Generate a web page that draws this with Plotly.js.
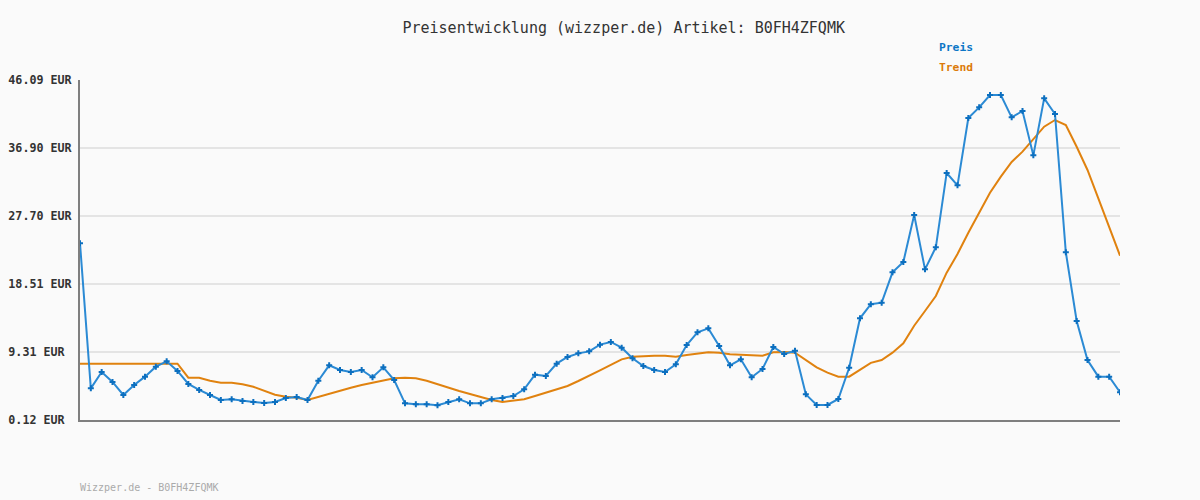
<!DOCTYPE html>
<html>
<head>
<meta charset="utf-8">
<script src="https://cdn.plot.ly/plotly-3.0.1.min.js"></script>
<style>
  html, body { margin: 0; padding: 0; background: #fafafa; }
  #chart { width: 1200px; height: 500px; }
</style>
</head>
<body>
<div id="chart"></div>
<script>
// ---- Data ----
const chartTitle = "Preisentwicklung (wizzper.de) Artikel: B0FH4ZFQMK";
const footerText = "Wizzper.de - B0FH4ZFQMK";
const seriesNames = ["Preis", "Trend"];

const priceValues = [
  24.01, 4.40, 6.61, 5.26, 3.50, 4.85, 5.98, 7.33, 8.05, 6.75,
  4.99, 4.18, 3.50, 2.82, 2.92, 2.69, 2.55, 2.42, 2.55, 3.09,
  3.23, 2.82, 5.43, 7.51, 6.88, 6.61, 6.88, 5.89, 7.24, 5.53,
  2.37, 2.24, 2.24, 2.11, 2.55, 2.92, 2.37, 2.37, 2.92, 3.09,
  3.36, 4.27, 6.25, 6.07, 7.74, 8.64, 9.13, 9.40, 10.31, 10.67,
  9.90, 8.46, 7.42, 6.88, 6.61, 7.65, 10.26, 11.97, 12.51, 10.13,
  7.51, 8.32, 5.89, 7.02, 9.99, 9.04, 9.49, 3.59, 2.15, 2.15,
  2.96, 7.19, 13.87, 15.78, 15.98, 20.09, 21.48, 27.84, 20.49, 23.47,
  33.52, 31.85, 40.95, 42.39, 44.06, 44.06, 41.04, 41.90, 35.90, 43.61,
  41.49, 22.79, 13.51, 8.23, 5.98, 5.98, 3.87
];

const trendValues = [
  7.73, 7.73, 7.73, 7.73, 7.73, 7.73, 7.73, 7.73, 7.73, 7.73,
  5.84, 5.84, 5.43, 5.16, 5.16, 4.95, 4.62, 4.08, 3.54, 3.27,
  3.14, 2.82, 3.25, 3.70, 4.10, 4.49, 4.85, 5.16, 5.49, 5.76,
  5.84, 5.76, 5.43, 4.95, 4.49, 4.04, 3.64, 3.23, 2.82, 2.55,
  2.73, 2.92, 3.36, 3.81, 4.27, 4.72, 5.39, 6.07, 6.83, 7.56,
  8.32, 8.68, 8.77, 8.82, 8.82, 8.68, 8.91, 9.14, 9.27, 9.22,
  9.00, 8.95, 8.86, 8.82, 9.27, 9.31, 9.22, 8.23, 7.24, 6.52,
  5.98, 5.98, 6.90, 7.85, 8.23, 9.22, 10.49, 12.87, 14.86, 16.89,
  20.04, 22.56, 25.44, 28.15, 30.85, 33.02, 35.00, 36.40, 38.07, 39.78,
  40.68, 40.00, 37.07, 33.92, 30.09, 26.26, 22.34
];

const yTickValues = [0.12, 9.31, 18.51, 27.70, 36.90, 46.09];
const yTickLabels = ["0.12 EUR\u00a0", "9.31 EUR\u00a0", "18.51 EUR", "27.70 EUR", "36.90 EUR", "46.09 EUR"];

// ---- Styling ----
const blue = "#2b8ad4";
const orange = "#e0820f";
const mono = "DejaVu Sans Mono, Liberation Mono, monospace";

const xIdx = priceValues.map((_, i) => i);

const traces = [
  {
    x: xIdx, y: trendValues, type: "scatter", mode: "lines",
    name: seriesNames[1], line: { color: orange, width: 2 },
    showlegend: false, hoverinfo: "skip"
  },
  {
    x: xIdx, y: priceValues, type: "scatter", mode: "lines+markers",
    name: seriesNames[0], line: { color: blue, width: 2 },
    marker: { symbol: "cross", size: 5, color: "#0c6fbf", line: { width: 0 } },
    showlegend: false, hoverinfo: "skip"
  }
];

const legendX = (937 - 80) / 1040;

const layout = {
  width: 1200, height: 500,
  paper_bgcolor: "#fafafa", plot_bgcolor: "#fafafa",
  margin: { l: 80, r: 80, t: 80, b: 80, pad: 0 },
  font: { family: mono, color: "#333" },
  title: {
    text: chartTitle,
    font: { family: mono, size: 15, color: "#333" },
    x: 0.5228, xanchor: "center", xref: "paper",
    y: 0.944, yanchor: "middle", yref: "container"
  },
  xaxis: {
    range: [0, priceValues.length - 1],
    showgrid: false, zeroline: false,
    showticklabels: false, ticks: "",
    showline: true, linecolor: "#7f7f7f", linewidth: 2,
    fixedrange: true
  },
  yaxis: {
    range: [yTickValues[0], yTickValues[yTickValues.length - 1]],
    tickmode: "array", tickvals: yTickValues, ticktext: yTickLabels,
    showgrid: true, gridcolor: "#e4e4e4", gridwidth: 2,
    zeroline: false, ticks: "",
    showline: true, linecolor: "#7f7f7f", linewidth: 2,
    tickfont: { family: mono, size: 11.7, color: "#333", weight: "bold" },
    ticklabelstandoff: 4,
    fixedrange: true
  },
  annotations: [
    { text: "<b>" + seriesNames[0] + "</b>", xref: "paper", yref: "paper",
      x: legendX, y: 1 + 32 / 340, xanchor: "left", yanchor: "middle",
      showarrow: false, font: { family: mono, size: 11.3, color: "#0c76c6" } },
    { text: "<b>" + seriesNames[1] + "</b>", xref: "paper", yref: "paper",
      x: legendX, y: 1 + 12 / 340, xanchor: "left", yanchor: "middle",
      showarrow: false, font: { family: mono, size: 11.3, color: "#dc7a0a" } },
    { text: footerText, xref: "paper", yref: "paper",
      x: -2 / 1040, y: -67 / 340, xanchor: "left", yanchor: "middle",
      showarrow: false, font: { family: mono, size: 10, color: "#aaaaaa" } }
  ]
};

Plotly.newPlot("chart", traces, layout, { displayModeBar: false, staticPlot: true });
</script>
</body>
</html>
